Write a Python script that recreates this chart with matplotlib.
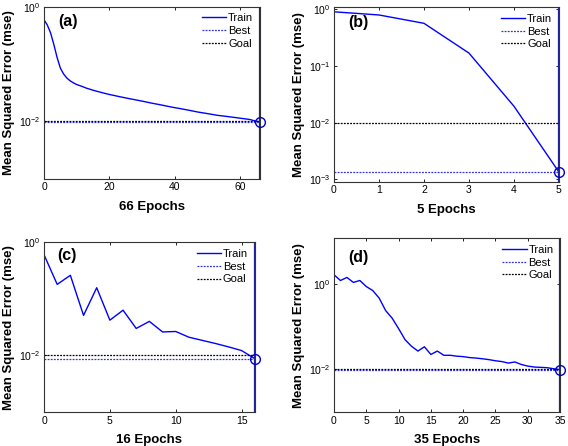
import numpy as np
import matplotlib
matplotlib.use("Agg")
import matplotlib.pyplot as plt
from matplotlib.ticker import FixedLocator, NullLocator, FuncFormatter

plt.rcParams['font.family'] = ['Liberation Sans', 'DejaVu Sans']
plt.rcParams['mathtext.fontset'] = 'custom'
plt.rcParams['mathtext.rm'] = 'Liberation Sans'

# panel (a): 66 epochs
train_a = [0.59, 0.48, 0.35, 0.22, 0.13, 0.085, 0.067, 0.057, 0.051, 0.047,
           0.044, 0.042, 0.040, 0.038, 0.0365, 0.035, 0.0338, 0.0326, 0.0315, 0.0305,
           0.0295, 0.0287, 0.0279, 0.0271, 0.0264, 0.0257, 0.0250, 0.0244, 0.0238, 0.0232,
           0.0226, 0.0220, 0.0214, 0.0208, 0.0203, 0.0198, 0.0193, 0.0188, 0.0183, 0.0178,
           0.0174, 0.0170, 0.0166, 0.0162, 0.0158, 0.0154, 0.0150, 0.0146, 0.0143, 0.0140,
           0.0137, 0.0134, 0.0131, 0.0128, 0.0126, 0.0124, 0.0122, 0.0120, 0.0118, 0.0116,
           0.0114, 0.0112, 0.0110, 0.0108, 0.0104, 0.0101, 0.0098]
# panel (b): 5 epochs
train_b = [0.91, 0.80, 0.57, 0.17, 0.0196, 0.00135]
# panel (c): 16 epochs
train_c = [0.60, 0.18, 0.26, 0.051, 0.157, 0.042, 0.063, 0.030, 0.040, 0.026,
           0.0265, 0.021, 0.0185, 0.0163, 0.0142, 0.0122, 0.0088]
# panel (d): 35 epochs
train_d = [1.66, 1.22, 1.44, 1.10, 1.22, 0.88, 0.71, 0.47, 0.24, 0.16,
           0.091, 0.050, 0.035, 0.027, 0.034, 0.0225, 0.027, 0.0215, 0.0215, 0.0205,
           0.020, 0.019, 0.0185, 0.0178, 0.017, 0.016, 0.0153, 0.0141, 0.015, 0.0131,
           0.012, 0.0114, 0.0112, 0.011, 0.0104, 0.0099]

goals = [0.01, 0.01, 0.01, 0.01]
bests = [0.0098, 0.00135, 0.0088, 0.0099]
labels = ["(a)", "(b)", "(c)", "(d)"]
series = [train_a, train_b, train_c, train_d]
ylims = [(1e-3, 1.0), (9e-4, 1.1), (1e-3, 1.0), (1e-3, 12.0)]
xticks = [[0, 20, 40, 60], [0, 1, 2, 3, 4, 5], [0, 5, 10, 15],
          [0, 5, 10, 15, 20, 25, 30, 35]]
yticks = [[1e-2, 1e0], [1e-3, 1e-2, 1e-1, 1e0], [1e-2, 1e0], [1e-2, 1e0]]
positions = [[0.0775, 0.599, 0.380, 0.386],
             [0.588, 0.592, 0.396, 0.392],
             [0.0775, 0.076, 0.371, 0.381],
             [0.588, 0.076, 0.398, 0.390]]
label_y = [0.96, 0.955, 0.965, 0.93]

fig = plt.figure(figsize=(5.68, 4.46), dpi=100)


def decade(v, pos):
    return r"$10^{%d}$" % int(round(np.log10(v)))


for i in range(4):
    ax = fig.add_axes(positions[i])
    y = np.array(series[i])
    x = np.arange(len(y))
    n = len(y) - 1
    ax.semilogy(x, y, color='#0000ff', lw=1.0, label='Train')
    ax.axhline(bests[i], color='#3333dd', lw=0.9, ls=(0, (1.5, 1)), label='Best')
    ax.axhline(goals[i], color='black', lw=0.9, ls=(0, (1.5, 1)), label='Goal')
    ax.axvline(n, color='#2020a0', lw=1.6)
    ax.plot([n], [bests[i]], 'o', mfc='none', mec='#0000cc', ms=7, mew=1.0,
            clip_on=False, zorder=5)
    ax.set_xlim(0, n)
    ax.set_ylim(*ylims[i])
    ax.set_xticks(xticks[i])
    ax.yaxis.set_major_locator(FixedLocator(yticks[i]))
    ax.yaxis.set_major_formatter(FuncFormatter(decade))
    ax.yaxis.set_minor_locator(NullLocator())
    ax.tick_params(direction='in', length=2.5, width=0.6, labelsize=7.5,
                   top=True, right=True, pad=2.5)
    for s in ax.spines.values():
        s.set_linewidth(0.8)
        s.set_color('#333333')
    ax.set_xlabel("%d Epochs" % n, fontsize=9.5, fontweight='bold', labelpad=6)
    ax.set_ylabel("Mean Squared Error (mse)", fontsize=9.5, fontweight='bold',
                  labelpad=3)
    ax.text(0.065, label_y[i], labels[i], transform=ax.transAxes, fontsize=11.5,
            fontweight='bold', va='top', ha='left')
    ax.legend(loc='upper right', frameon=False, fontsize=8, handlelength=2.2,
              handletextpad=0.15, labelspacing=0.25, borderaxespad=0.2)

fig.savefig("out.png", dpi=100)
